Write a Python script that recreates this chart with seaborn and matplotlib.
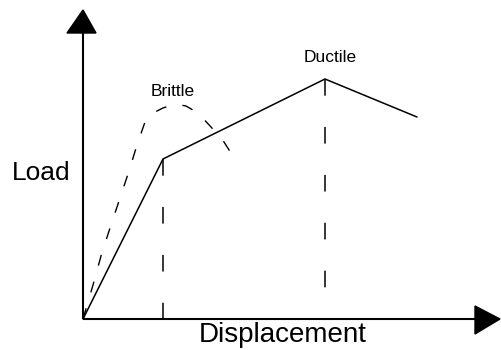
import matplotlib
matplotlib.use("Agg")
import matplotlib.pyplot as plt
from matplotlib.patches import Polygon
import seaborn as sns
import pandas as pd

# Data (schematic load-displacement, arbitrary units)
ductile_disp = [0, 80, 242, 334]
ductile_load = [0, 160, 240, 202]

brittle_disp = [0, 10, 18, 27, 37, 46, 54, 62, 70, 80, 92, 103, 115, 128, 141, 155]
brittle_load = [0, 34, 63, 91, 121, 148, 174, 197, 206, 211, 215, 213, 206, 192, 177, 155]

knee_disp = [80, 242]
knee_load = [160, 240]

x_label = "Displacement"
y_label = "Load"
label_brittle = "Brittle"
label_ductile = "Ductile"

sns.set_theme(style="white")
plt.rcParams["font.family"] = ["Liberation Sans", "DejaVu Sans"]
plt.rcParams["lines.scale_dashes"] = False

fig = plt.figure(figsize=(5.02, 3.5), dpi=100)
ax = fig.add_axes([0, 0, 1, 1])
ax.set_xlim(-83, 419)
ax.set_ylim(-31, 319)
ax.axis("off")

df_d = pd.DataFrame({"disp": ductile_disp, "load": ductile_load})
df_b = pd.DataFrame({"disp": brittle_disp, "load": brittle_load})

sns.lineplot(data=df_d, x="disp", y="load", sort=False, color="black",
             linewidth=1.1, ax=ax)
sns.lineplot(data=df_b, x="disp", y="load", sort=False, color="black",
             linewidth=1.0, linestyle=(0, (8.0, 12.0)), ax=ax)

# vertical dashed drop lines from knee and peak
for xd, yd in zip(knee_disp, knee_load):
    ax.plot([xd, xd], [yd, 0], color="black", linewidth=1.1,
            linestyle=(0, (12.0, 22.5)))

# axes with arrowheads
ax.plot([0, 0], [0, 288], color="black", linewidth=1.5, solid_capstyle="butt")
ax.plot([0, 393], [0, 0], color="black", linewidth=1.5, solid_capstyle="butt")
ax.add_patch(Polygon([(-16, 286), (13, 286), (0, 309)], closed=True,
                     facecolor="black", edgecolor="black"))
ax.add_patch(Polygon([(392, 13), (392, -15), (417, 0)], closed=True,
                     facecolor="black", edgecolor="black"))

ax.text(-71, 146, y_label, fontsize=19, ha="left", va="center", color="black")
ax.text(200, -16, x_label, fontsize=20, ha="center", va="center", color="black")
ax.text(90, 227, label_brittle, fontsize=12.5, ha="center", va="center", color="black")
ax.text(247, 262, label_ductile, fontsize=12.5, ha="center", va="center", color="black")

fig.savefig("out.png", dpi=100)
